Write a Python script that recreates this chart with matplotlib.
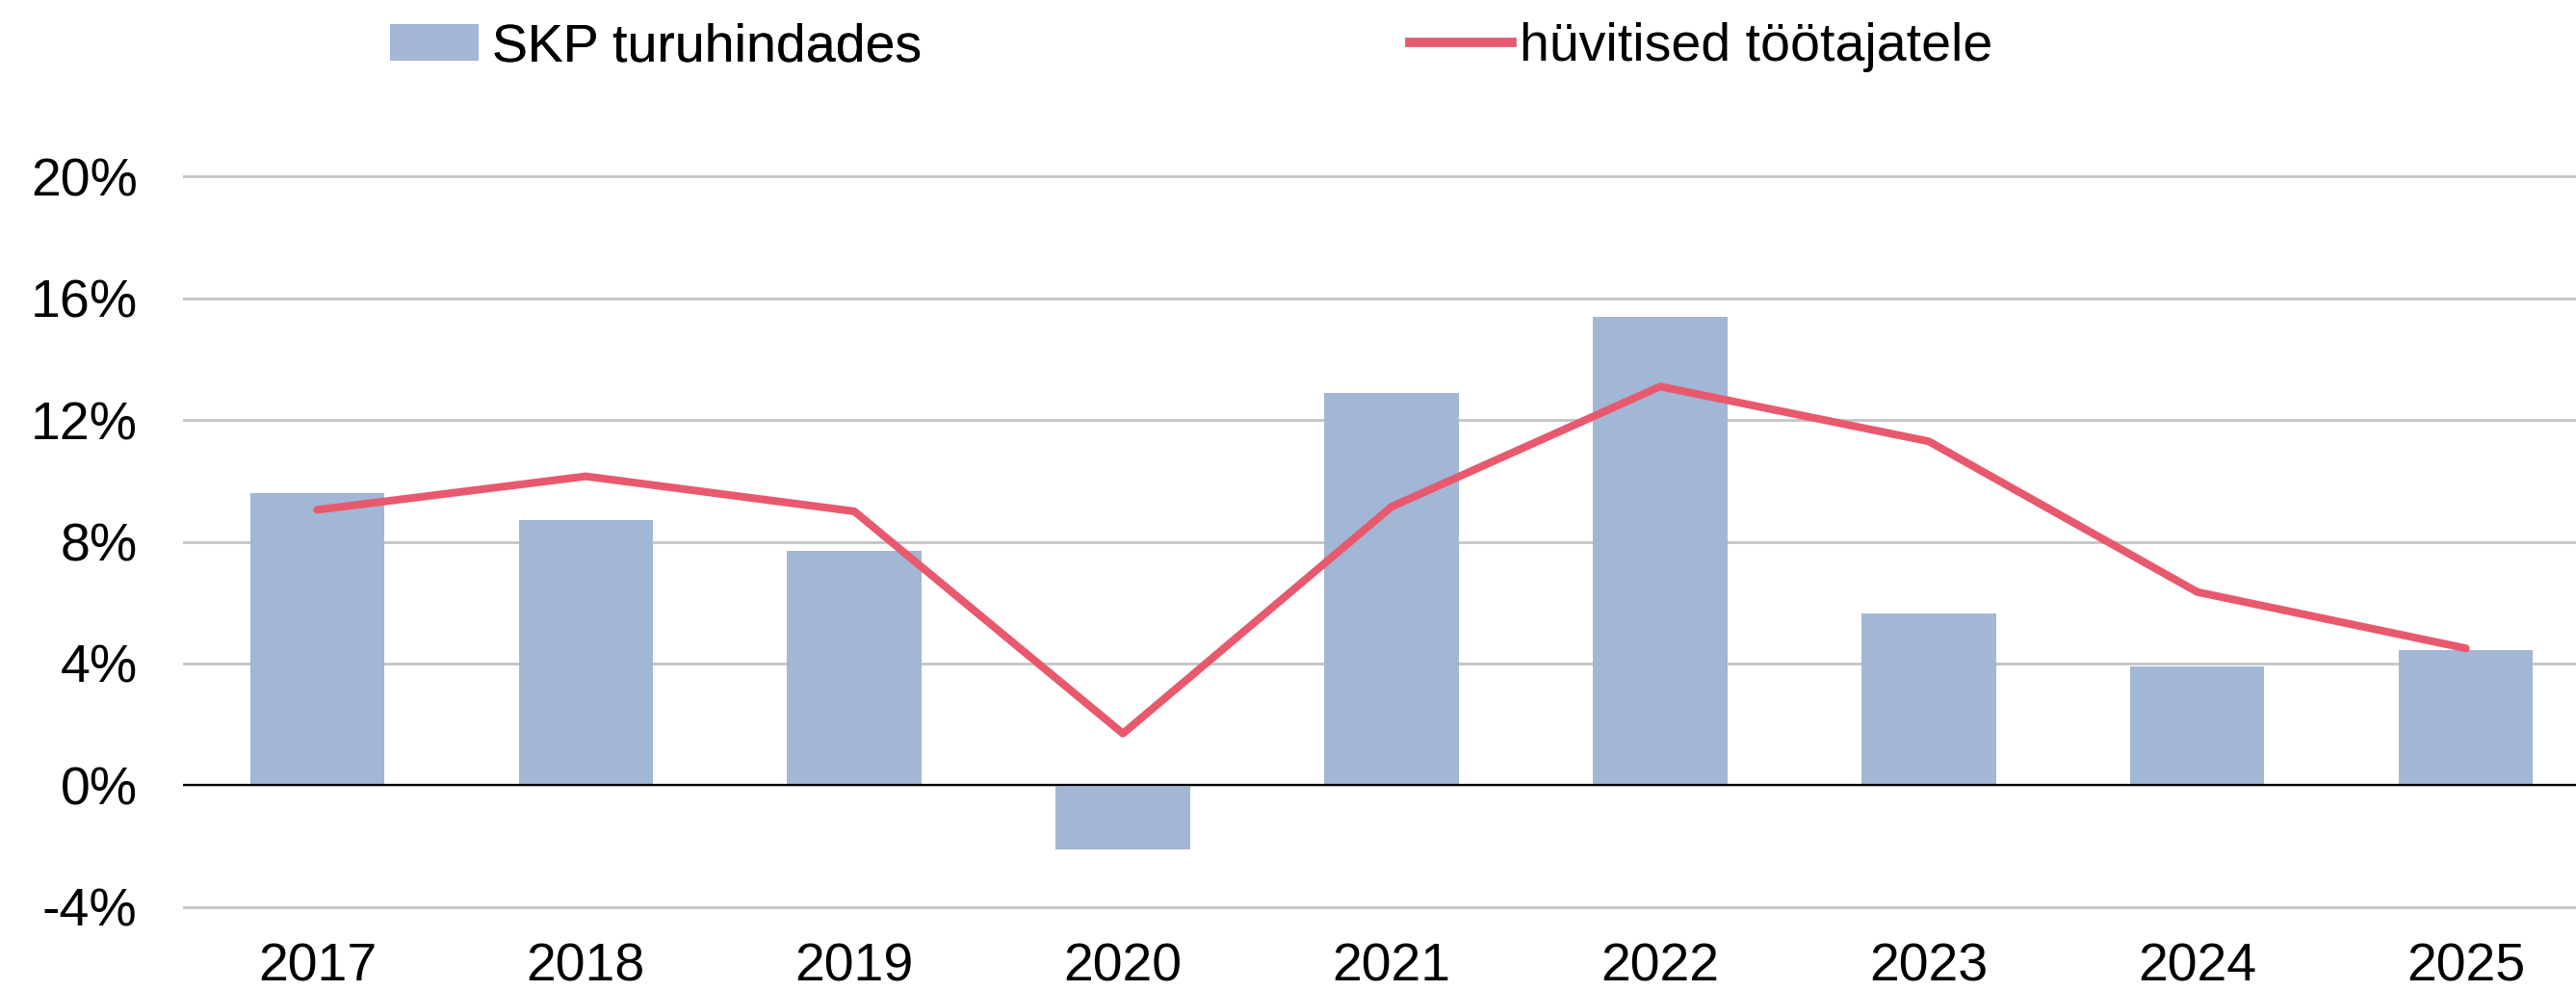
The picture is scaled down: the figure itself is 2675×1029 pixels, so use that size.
import matplotlib

matplotlib.use("Agg")
import matplotlib.pyplot as plt
from matplotlib.lines import Line2D
from matplotlib.patches import Patch
from matplotlib.ticker import FuncFormatter

# data (percent)
years = ["2017", "2018", "2019", "2020", "2021", "2022", "2023", "2024", "2025"]
gdp_growth = [9.6, 8.7, 7.7, -2.1, 12.9, 15.4, 5.65, 3.9, 4.45]
comp_growth = [9.05, 10.15, 9.0, 1.7, 9.15, 13.1, 11.3, 6.35, 4.5]
y_ticks = [-4, 0, 4, 8, 12, 16, 20]

BAR_COLOR = "#A2B6D6"
LINE_COLOR = "#E8596E"
FONT_SIZE = 40

plt.rcParams["font.family"] = ["Liberation Sans", "DejaVu Sans"]

fig = plt.figure(figsize=(26.75, 10.29), dpi=100)
ax = fig.add_axes([0.071, 0.0816, 0.929, 0.7434])

x = list(range(len(years)))
ax.bar(x, gdp_growth, width=0.5, color=BAR_COLOR, zorder=2)
ax.plot(x, comp_growth, color=LINE_COLOR, linewidth=5.8,
        solid_capstyle="round", solid_joinstyle="round", zorder=3)
ax.axhline(0, color="black", linewidth=1.6, zorder=4)

ax.set_ylim(-4.1, 20.1)
ax.set_xlim(-0.5, 8.41)
ax.set_yticks(y_ticks)
ax.yaxis.set_major_formatter(FuncFormatter(lambda v, _: f"{v:.0f}%"))
ax.set_xticks(x)
ax.set_xticklabels(years)
ax.grid(axis="y", color="#C4C4C4", linewidth=2, zorder=0)
ax.set_axisbelow(True)
ax.tick_params(axis="both", length=0, labelsize=FONT_SIZE)
ax.tick_params(axis="y", pad=34)
ax.tick_params(axis="x", pad=24)
for spine in ax.spines.values():
    spine.set_visible(False)

# two separate legend entries, placed like the original
leg1 = fig.legend(
    handles=[Patch(facecolor=BAR_COLOR, edgecolor="none")],
    labels=["SKP turuhindades"],
    loc="center left",
    bbox_to_anchor=(405 / 2675, 0.952),
    frameon=False,
    fontsize=FONT_SIZE,
    handlelength=1.65,
    handleheight=0.7,
    handletextpad=0.25,
    borderpad=0,
    borderaxespad=0,
)
fig.add_artist(leg1)
fig.legend(
    handles=[Line2D([0], [0], color=LINE_COLOR, linewidth=7)],
    labels=["hüvitised töötajatele"],
    loc="center left",
    bbox_to_anchor=(1464 / 2675, 0.952),
    frameon=False,
    fontsize=FONT_SIZE,
    handlelength=1.9,
    handletextpad=0.15,
    borderpad=0,
    borderaxespad=0,
)

fig.savefig("out.png", dpi=100)
plt.close(fig)
